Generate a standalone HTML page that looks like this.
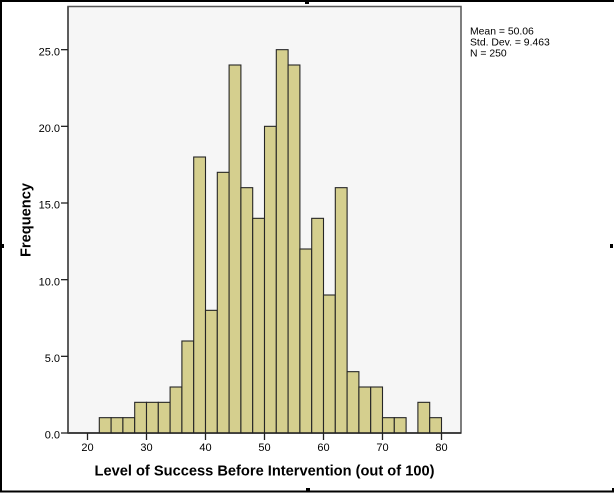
<!DOCTYPE html>
<html>
<head>
<meta charset="utf-8">
<style>
html,body{margin:0;padding:0;background:#fff;}
svg{display:block;}
text{font-family:"Liberation Sans",Arial,sans-serif;fill:#000;}
</style>
</head>
<body>
<svg width="614" height="493" viewBox="0 0 614 493" xmlns="http://www.w3.org/2000/svg">
  <rect x="0" y="0" width="614" height="493" fill="#fff"/>
  <!-- outer border -->
  <rect x="0" y="0" width="614" height="2" fill="#000"/>
  <rect x="0" y="0" width="2" height="492" fill="#000"/>
  <rect x="0" y="490.5" width="614" height="2" fill="#000"/>
  <!-- handles -->
  <rect x="305" y="0" width="4" height="4" fill="#000"/>
  <rect x="0" y="244" width="4" height="4" fill="#000"/>
  <rect x="610" y="244" width="3" height="4" fill="#000"/>
  <rect x="306" y="488" width="4" height="4" fill="#000"/>
  <rect x="612" y="488" width="2" height="4" fill="#000"/>

  <!-- plot area -->
  <rect x="68" y="6.5" width="393" height="426.5" fill="#f6f6f6" stroke="#555" stroke-width="1.5"/>

  <!-- bars -->
  <g fill="#d5cf8e" stroke="#262626" stroke-width="1.1">
    <rect x="99.3" y="417.67" width="11.8" height="15.33"/>
    <rect x="111.1" y="417.67" width="11.8" height="15.33"/>
    <rect x="122.9" y="417.67" width="11.8" height="15.33"/>
    <rect x="134.7" y="402.33" width="11.8" height="30.67"/>
    <rect x="146.5" y="402.33" width="11.8" height="30.67"/>
    <rect x="158.3" y="402.33" width="11.8" height="30.67"/>
    <rect x="170.1" y="387" width="11.8" height="46"/>
    <rect x="181.9" y="341" width="11.8" height="92"/>
    <rect x="193.7" y="157" width="11.8" height="276"/>
    <rect x="205.5" y="310.33" width="11.8" height="122.67"/>
    <rect x="217.3" y="172.33" width="11.8" height="260.67"/>
    <rect x="229.1" y="65" width="11.8" height="368"/>
    <rect x="240.9" y="187.67" width="11.8" height="245.33"/>
    <rect x="252.7" y="218.33" width="11.8" height="214.67"/>
    <rect x="264.5" y="126.33" width="11.8" height="306.67"/>
    <rect x="276.3" y="49.67" width="11.8" height="383.33"/>
    <rect x="288.1" y="65" width="11.8" height="368"/>
    <rect x="299.9" y="249" width="11.8" height="184"/>
    <rect x="311.7" y="218.33" width="11.8" height="214.67"/>
    <rect x="323.5" y="295" width="11.8" height="138"/>
    <rect x="335.3" y="187.67" width="11.8" height="245.33"/>
    <rect x="347.1" y="371.67" width="11.8" height="61.33"/>
    <rect x="358.9" y="387" width="11.8" height="46"/>
    <rect x="370.7" y="387" width="11.8" height="46"/>
    <rect x="382.5" y="417.67" width="11.8" height="15.33"/>
    <rect x="394.3" y="417.67" width="11.8" height="15.33"/>
    <rect x="417.9" y="402.33" width="11.8" height="30.67"/>
    <rect x="429.7" y="417.67" width="11.8" height="15.33"/>
  </g>

  <!-- axes lines -->
  <line x1="68" y1="433" x2="461" y2="433" stroke="#222" stroke-width="1.5"/>
  <line x1="68" y1="6.5" x2="68" y2="433" stroke="#444" stroke-width="1.5"/>

  <!-- y ticks -->
  <g stroke="#222" stroke-width="1.3">
    <line x1="61" y1="433" x2="68" y2="433"/>
    <line x1="61" y1="356.33" x2="68" y2="356.33"/>
    <line x1="61" y1="279.67" x2="68" y2="279.67"/>
    <line x1="61" y1="203" x2="68" y2="203"/>
    <line x1="61" y1="126.33" x2="68" y2="126.33"/>
    <line x1="61" y1="49.67" x2="68" y2="49.67"/>
  </g>
  <g font-size="11" text-anchor="end">
    <text x="60" y="438.7">0.0</text>
    <text x="60" y="362">5.0</text>
    <text x="60" y="285.4">10.0</text>
    <text x="60" y="208.7">15.0</text>
    <text x="60" y="132">20.0</text>
    <text x="60" y="55.4">25.0</text>
  </g>

  <!-- x ticks -->
  <g stroke="#222" stroke-width="1.3">
    <line x1="87.5" y1="433" x2="87.5" y2="440"/>
    <line x1="146.5" y1="433" x2="146.5" y2="440"/>
    <line x1="205.5" y1="433" x2="205.5" y2="440"/>
    <line x1="264.5" y1="433" x2="264.5" y2="440"/>
    <line x1="323.5" y1="433" x2="323.5" y2="440"/>
    <line x1="382.5" y1="433" x2="382.5" y2="440"/>
    <line x1="441.5" y1="433" x2="441.5" y2="440"/>
  </g>
  <g font-size="11" text-anchor="middle">
    <text x="87.5" y="451">20</text>
    <text x="146.5" y="451">30</text>
    <text x="205.5" y="451">40</text>
    <text x="264.5" y="451">50</text>
    <text x="323.5" y="451">60</text>
    <text x="382.5" y="451">70</text>
    <text x="441.5" y="451">80</text>
  </g>

  <!-- axis titles -->
  <text x="264.5" y="475.5" font-size="14.5" font-weight="bold" text-anchor="middle" textLength="340" lengthAdjust="spacingAndGlyphs">Level of Success Before Intervention (out of 100)</text>
  <text transform="translate(30.7,220) rotate(-90)" x="0" y="0" font-size="14.5" font-weight="bold" text-anchor="middle" textLength="74" lengthAdjust="spacingAndGlyphs">Frequency</text>

  <!-- stats -->
  <g font-size="10.4">
    <text x="470" y="34.3">Mean = 50.06</text>
    <text x="470" y="45.4">Std. Dev. = 9.463</text>
    <text x="470" y="56.5">N = 250</text>
  </g>
</svg>
</body>
</html>
